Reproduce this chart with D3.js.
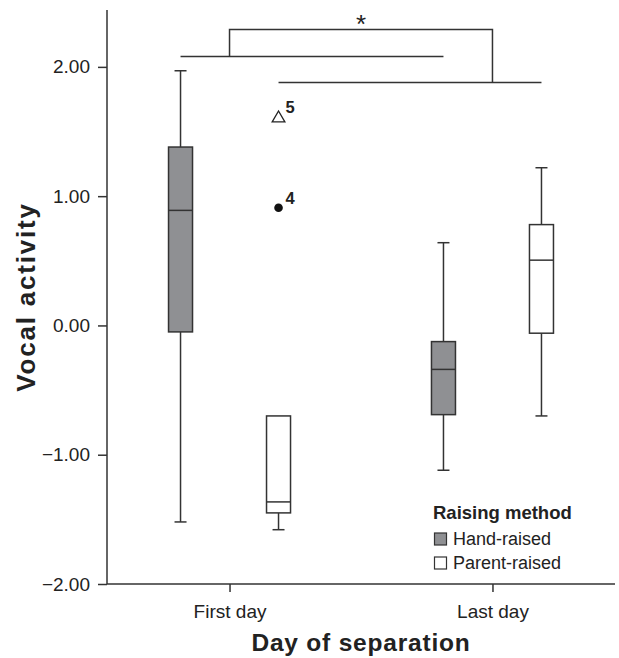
<!DOCTYPE html>
<html>
<head>
<meta charset="utf-8">
<script src="https://cdn.jsdelivr.net/npm/d3@7"></script>
<style>
  html, body { margin: 0; padding: 0; background: #fff; }
  svg { display: block; font-family: "Liberation Sans", Arial, Helvetica, sans-serif; }
</style>
</head>
<body>
<svg id="chart" width="619" height="658"></svg>
<script>
// ---- data ----
const days = ["First day", "Last day"];
const groups = ["Hand-raised", "Parent-raised"];
const groupFills = ["#8f9093", "#ffffff"];
// box statistics per day: [lower whisker, Q1, median, Q3, upper whisker]
const handRaisedStats = [
  [-1.52, -0.05, 0.89, 1.38, 1.97],
  [-1.12, -0.69, -0.34, -0.125, 0.64]
];
const parentRaisedStats = [
  [-1.58, -1.45, -1.365, -0.70, -0.70],
  [-0.70, -0.06, 0.505, 0.78, 1.22]
];
// outliers (parent-raised, first day)
const outlierDay = ["First day", "First day"];
const outlierGroup = ["Parent-raised", "Parent-raised"];
const outlierValue = [1.61, 0.91];
const outlierLabel = ["5", "4"];
const outlierShape = ["triangle", "circle"];
// significance brackets
const bracketHand = 2.08;
const bracketParent = 1.88;
const bracketTop = 2.29;
const yTicks = [-2, -1, 0, 1, 2];
const yMax = 2.44;

// ---- layout ----
const svg = d3.select("#chart");
const margin = {top: 10, right: 4, bottom: 74, left: 107};
const W = 619, H = 658;
const ink = "#333";

const y = d3.scaleLinear().domain([-2, yMax]).range([H - margin.bottom, margin.top]);
const x = d3.scalePoint().domain(days).range([margin.left, W - margin.right]).padding(0.466);
const xg = d3.scaleBand().domain(groups).range([-98, 98]);
const boxW = 24;
const gx = (day, grp) => x(day) + xg(grp) + xg.bandwidth() / 2;

// axes
const yAxis = d3.axisLeft(y).tickValues(yTicks).tickFormat(d3.format(".2f")).tickSize(9).tickPadding(8);
const gy = svg.append("g").attr("transform", `translate(${margin.left},0)`).call(yAxis);
gy.select(".domain").attr("d", `M0,${y(yMax)}V${y(-2)}`);
const xAxis = d3.axisBottom(x).tickSize(9).tickPadding(12);
const gxA = svg.append("g").attr("transform", `translate(0,${H - margin.bottom})`).call(xAxis);
gxA.select(".domain").attr("d", `M${margin.left},0H${W - margin.right}`);
[gy, gxA].forEach(g => {
  g.selectAll(".domain, .tick line").attr("stroke", ink).attr("stroke-width", 1.5);
  g.selectAll(".tick text").attr("fill", "#222").attr("font-size", 19).attr("font-family", "Liberation Sans, Arial, sans-serif");
});
gxA.selectAll(".tick line").attr("y2", 8);

// axis titles
svg.append("text")
  .attr("x", 361).attr("y", 651)
  .attr("text-anchor", "middle")
  .attr("font-size", 24.5).attr("font-weight", "bold").attr("letter-spacing", 0.8)
  .attr("fill", "#222")
  .text("Day of separation");
svg.append("text")
  .attr("transform", `translate(35,${(y(yMax) + y(-2)) / 2}) rotate(-90)`)
  .attr("text-anchor", "middle")
  .attr("font-size", 26).attr("font-weight", "bold").attr("letter-spacing", 1.8)
  .attr("fill", "#222")
  .text("Vocal activity");

// boxes
const series = [handRaisedStats, parentRaisedStats];
series.forEach((stats, gi) => {
  stats.forEach((s, di) => {
    const cx = gx(days[di], groups[gi]);
    const g = svg.append("g");
    const [lo, q1, med, q3, hi] = s;
    // whiskers
    g.append("line").attr("x1", cx).attr("x2", cx).attr("y1", y(q3)).attr("y2", y(hi));
    g.append("line").attr("x1", cx).attr("x2", cx).attr("y1", y(q1)).attr("y2", y(lo));
    if (hi > q3) g.append("line").attr("x1", cx - boxW / 4).attr("x2", cx + boxW / 4).attr("y1", y(hi)).attr("y2", y(hi));
    if (lo < q1) g.append("line").attr("x1", cx - boxW / 4).attr("x2", cx + boxW / 4).attr("y1", y(lo)).attr("y2", y(lo));
    g.append("rect").attr("x", cx - boxW / 2).attr("width", boxW)
      .attr("y", y(q3)).attr("height", y(q1) - y(q3))
      .attr("fill", groupFills[gi]);
    g.append("line").attr("x1", cx - boxW / 2).attr("x2", cx + boxW / 2).attr("y1", y(med)).attr("y2", y(med));
    g.selectAll("line, rect").attr("stroke", ink).attr("stroke-width", 1.5);
  });
});

// outliers
outlierValue.forEach((v, i) => {
  const cx = gx(outlierDay[i], outlierGroup[i]);
  const cy = y(v);
  if (outlierShape[i] === "circle") {
    svg.append("circle").attr("cx", cx).attr("cy", cy).attr("r", 4.3).attr("fill", "#111");
  } else {
    svg.append("path")
      .attr("d", d3.symbol().type(d3.symbolTriangle).size(70)())
      .attr("transform", `translate(${cx},${cy + 1})`)
      .attr("fill", "#fff").attr("stroke", "#222").attr("stroke-width", 1.3);
  }
  svg.append("text").attr("x", cx + 7).attr("y", cy - 4)
    .attr("font-size", 16.5).attr("font-weight", "bold").attr("fill", "#222")
    .text(outlierLabel[i]);
});

// significance brackets
const br = svg.append("g").attr("fill", "none").attr("stroke", ink).attr("stroke-width", 1.5);
br.append("path").attr("d",
  `M${gx(days[0], groups[0])},${y(bracketHand)}H${gx(days[1], groups[0])}`);
br.append("path").attr("d",
  `M${gx(days[0], groups[1])},${y(bracketParent)}H${gx(days[1], groups[1])}`);
br.append("path").attr("d",
  `M${x(days[0])},${y(bracketHand)}V${y(bracketTop)}H${x(days[1])}V${y(bracketParent)}`);
svg.append("text")
  .attr("x", (x(days[0]) + x(days[1])) / 2).attr("y", y(bracketTop) + 4)
  .attr("text-anchor", "middle").attr("font-size", 26).attr("fill", "#222")
  .text("*");

// legend
const lg = svg.append("g").attr("transform", "translate(433,0)");
lg.append("text").attr("x", 0).attr("y", 519)
  .attr("font-size", 18.5).attr("font-weight", "bold").attr("fill", "#222")
  .text("Raising method");
groups.forEach((gname, i) => {
  const yy = 545 + i * 24;
  lg.append("rect").attr("x", 1.5).attr("y", yy - 12).attr("width", 12).attr("height", 12)
    .attr("fill", groupFills[i]).attr("stroke", ink).attr("stroke-width", 1.2);
  lg.append("text").attr("x", 20).attr("y", yy)
    .attr("font-size", 18).attr("fill", "#222").text(gname);
});
</script>
</body>
</html>
